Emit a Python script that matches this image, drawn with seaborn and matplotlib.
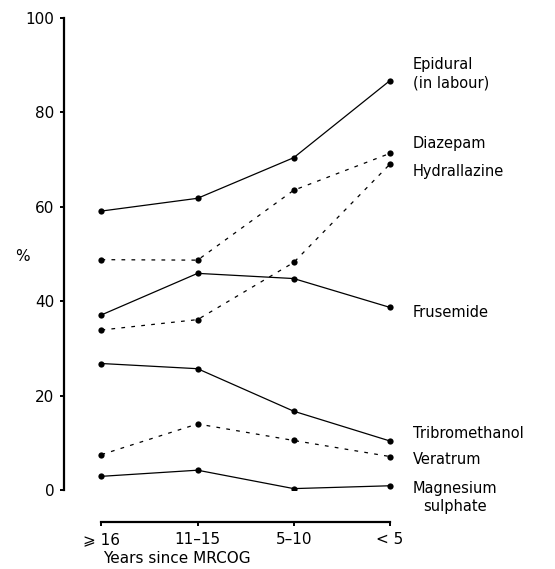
import pandas as pd
import numpy as np
import matplotlib.pyplot as plt
import seaborn as sns

## Values (percent)
periods = ['⩾ 16', '11–15', '5–10', '< 5']
epidural = [59.1, 61.8, 70.4, 86.7]
diazepam = [48.8, 48.7, 63.5, 71.3]
hydrallazine = [33.9, 36.1, 48.2, 69.0]
frusemide = [37.1, 45.9, 44.8, 38.7]
tribromethanol = [26.8, 25.7, 16.7, 10.4]
veratrum = [7.5, 14.0, 10.5, 7.1]
magnesium = [2.9, 4.2, 0.3, 0.9]

series = {'Epidural\n(in labour)': (epidural, 'solid'),
          'Diazepam': (diazepam, 'dotted'),
          'Hydrallazine': (hydrallazine, 'dotted'),
          'Frusemide': (frusemide, 'solid'),
          'Tribromethanol': (tribromethanol, 'solid'),
          'Veratrum': (veratrum, 'dotted'),
          'Magnesium\nsulphate': (magnesium, 'solid')}

# label y positions (data units) next to the right end
label_y = {'Epidural\n(in labour)': 88.2, 'Diazepam': 73.5, 'Hydrallazine': 67.4,
           'Frusemide': 37.7, 'Tribromethanol': 11.9, 'Veratrum': 6.4,
           'Magnesium\nsulphate': -1.6}

sns.set_style('ticks', {'text.color': 'black', 'axes.labelcolor': 'black',
                        'xtick.color': 'black', 'ytick.color': 'black',
                        'axes.edgecolor': 'black'})
plt.rcParams['font.family'] = ['DejaVu Sans']

fig = plt.figure(figsize=(5.55, 5.69), dpi=100)
ax = fig.add_axes([0.1153, 0.1388, 0.962 - 0.1153, 0.9684 - 0.1388])

Kwargs = {'color': 'black', 'marker': 'o', 'markersize': 4.5, 'linewidth': 0.9,
          'markeredgewidth': 0}
for name, (vals, kind) in series.items():
    df = pd.DataFrame({'period': periods, 'pct': vals})
    sns.lineplot(data=df, x='period', y='pct', ax=ax, sort=False, **Kwargs)
    ln = ax.lines[-1]
    if kind == 'dotted':
        ln.set_linestyle((0, (3, 5)))
    ma = 'center' if name.startswith('Magnesium') else 'left'
    ax.text(3.24, label_y[name], name, ha='left', va='center', fontsize=10.5,
            multialignment=ma, linespacing=1.25, color='black')

ax.set_ylim(0, 100)
ax.set_xlim(-0.39, 4.5)
ax.set_yticks([0, 20, 40, 60, 80, 100])
ax.set_xticks(range(len(periods)))
ax.set_xticklabels(periods)

sns.despine(ax=ax)
ax.spines['left'].set_linewidth(1.6)
ax.spines['bottom'].set_linewidth(1.6)
ax.spines['bottom'].set_position(('outward', 23))
ax.spines['bottom'].set_bounds(0, 3)
ax.tick_params(axis='both', labelsize=11, length=3, width=1.4, pad=4,
               colors='black')

ax.set_xlabel('Years since MRCOG', fontsize=11, color='black')
ax.xaxis.set_label_coords(0.24, -0.130)
ax.set_ylabel('%', rotation=0, fontsize=11, va='center', ha='center', color='black')
ax.yaxis.set_label_coords(-0.089, 0.494)

plt.savefig('out.png', dpi=100, facecolor='white')
